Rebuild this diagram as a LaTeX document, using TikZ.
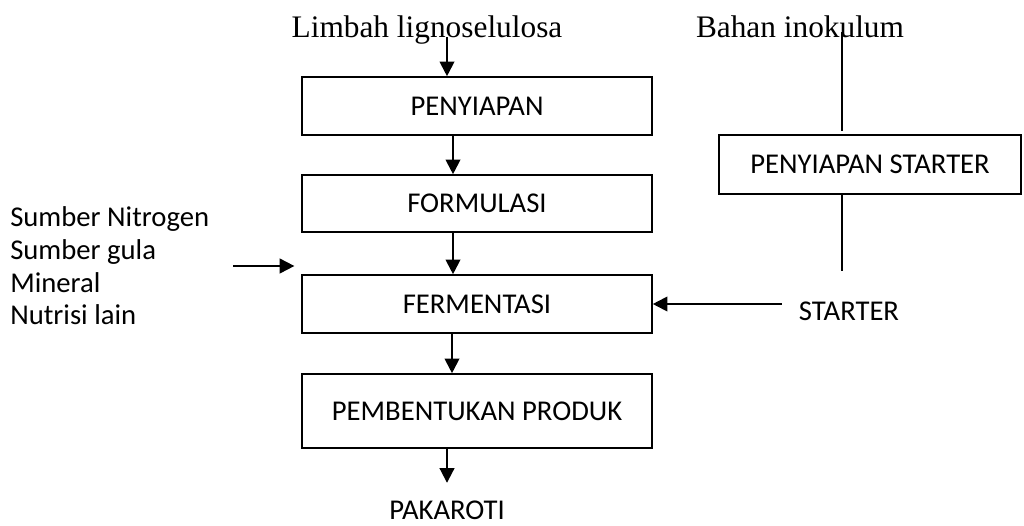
\documentclass[tikz,border=0pt]{standalone}
\usepackage{fontspec}
\setmainfont{Liberation Serif}
\setsansfont{Carlito}
\usetikzlibrary{arrows.meta,calc}

\begin{document}
\begin{tikzpicture}[x=0.75pt,y=-0.75pt,
		proc/.style={draw, line width=1.2pt, minimum width=262.5pt, minimum height=43.5pt, inner sep=0pt, font=\sffamily\fontsize{21.5}{24}\selectfont},
		lbl/.style={font=\sffamily\fontsize{21.5}{24.5}\selectfont, inner sep=0pt},
		src/.style={font=\fontsize{23.5}{26}\selectfont, inner sep=0pt},
		arr/.style={line width=1.5pt, -{Triangle[length=11pt,width=11pt]}},
		ln/.style={line width=1.5pt}]
		\useasboundingbox (0,0) rectangle (1024,525);
		% main process column
		\node[proc] (penyiapan) at (477,106) {PENYIAPAN};
		\node[proc, minimum height=42.75pt] (formulasi) at (477,203.5) {FORMULASI};
		\node[proc] (fermentasi) at (477,304) {FERMENTASI};
		\node[proc, minimum height=55.5pt] (produk) at (477,411) {PEMBENTUKAN PRODUK};
		% starter branch
		\node[proc, minimum width=226.5pt, minimum height=44.25pt] (starterprep) at (870,164.5) {PENYIAPAN STARTER};
		% inputs and output
		\node[src, anchor=base] (limbah) at (427,37) {Limbah lignoselulosa};
		\node[src, anchor=base] (inokulum) at (800,37) {Bahan inokulum};
		\node[lbl, anchor=base] (starter) at (849,320) {STARTER};
		\node[lbl, anchor=base] (pakaroti) at (447,519) {PAKAROTI};
		\node[lbl, anchor=west, align=left] (nutrisi) at (10,266) {Sumber Nitrogen\\Sumber gula\\Mineral\\Nutrisi lain};
		% arrows down the column
		\draw[arr] ([xshift=15pt]limbah.base) -- ([xshift=15pt]limbah.base |- penyiapan.north);
		\draw[arr] ([xshift=-18pt]penyiapan.south) -- ([xshift=-18pt]formulasi.north);
		\draw[arr] ([xshift=-18pt]formulasi.south) -- ([xshift=-18pt]fermentasi.north);
		\draw[arr] ([xshift=-18.75pt]fermentasi.south) -- ([xshift=-18.75pt]produk.north);
		\draw[arr] (produk.south -| pakaroti) -- ([yshift=13pt]pakaroti.north);
		% side inputs
		\draw[arr] ([xshift=18pt]nutrisi.east) -- ++(61,0);
		\draw[arr] ([xshift=-12.75pt]starter.west |- fermentasi.east) -- (fermentasi.east);
		\draw[ln] ([xshift=-21pt,yshift=3.75pt]starterprep.north |- inokulum.base) -- ([xshift=-21pt,yshift=2.25pt]starterprep.north);
		\draw[ln] ([xshift=-21pt]starterprep.south) -- ([xshift=-21pt,yshift=22.5pt]starterprep.south |- starter.north);
	\end{tikzpicture}
\end{document}
